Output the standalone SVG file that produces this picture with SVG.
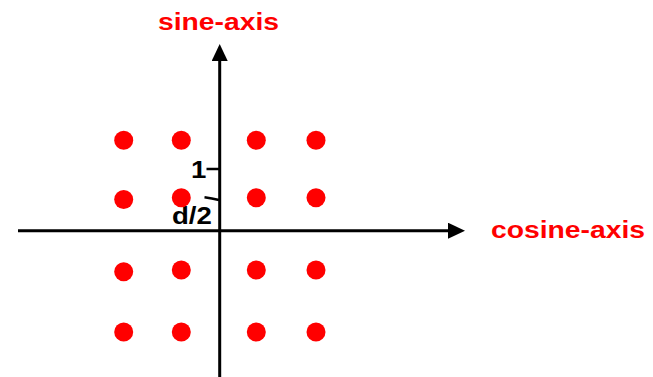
<svg xmlns="http://www.w3.org/2000/svg" width="653" height="377" viewBox="0 0 653 377">
<style>
.axis{stroke:#000;stroke-width:3;fill:none}
.tick{stroke:#000;stroke-width:2.5;fill:none}
.dot{fill:#ff0000}
.lbl{font-family:"Liberation Sans",Arial,sans-serif;font-weight:bold;fill:#000;font-size:23px}
.ax{font-family:"Liberation Sans",Arial,sans-serif;font-weight:bold;fill:#ff0000;font-size:23px}
</style>
<defs>
<marker id="ah" viewBox="0 0 17 16" refX="0" refY="8" markerWidth="17" markerHeight="16" markerUnits="userSpaceOnUse" orient="auto">
<path d="M0,0 L17,8 L0,16 Z" fill="#000"/>
</marker>
</defs>
<g id="connectors">
<line class="axis" x1="219.7" y1="377" x2="219.7" y2="61" marker-end="url(#ah)"/>
<line class="axis" x1="18" y1="230.7" x2="448" y2="230.7" marker-end="url(#ah)"/>
<line class="tick" x1="206.5" y1="169" x2="219" y2="169"/>
<path class="tick" d="M204.5,197.3 Q212,198.3 219,200"/>
</g>
<g id="labels">
<text class="ax" transform="translate(158,29.5) scale(1.23,1)">sine-axis</text>
<text class="ax" transform="translate(491,238) scale(1.23,1)">cosine-axis</text>
<text class="lbl" transform="translate(191,177.5) scale(1.2,1)">1</text>
<text class="lbl" transform="translate(172,224) scale(1.2,1)">d/2</text>
</g>
<g id="dots">
<circle class="dot" cx="123.7" cy="140.3" r="9.5"/>
<circle class="dot" cx="181.3" cy="140.3" r="9.5"/>
<circle class="dot" cx="256.3" cy="140.3" r="9.5"/>
<circle class="dot" cx="316" cy="140.3" r="9.5"/>
<circle class="dot" cx="123.7" cy="199.5" r="9.5"/>
<circle class="dot" cx="181.3" cy="197.8" r="9.5"/>
<circle class="dot" cx="256.3" cy="197.8" r="9.5"/>
<circle class="dot" cx="316" cy="197.8" r="9.5"/>
<circle class="dot" cx="123.7" cy="271.7" r="9.5"/>
<circle class="dot" cx="181.3" cy="270" r="9.5"/>
<circle class="dot" cx="256.3" cy="270" r="9.5"/>
<circle class="dot" cx="316" cy="270" r="9.5"/>
<circle class="dot" cx="123.7" cy="332" r="9.5"/>
<circle class="dot" cx="181.3" cy="332" r="9.5"/>
<circle class="dot" cx="256.3" cy="332" r="9.5"/>
<circle class="dot" cx="316" cy="332" r="9.5"/>
</g>
</svg>
